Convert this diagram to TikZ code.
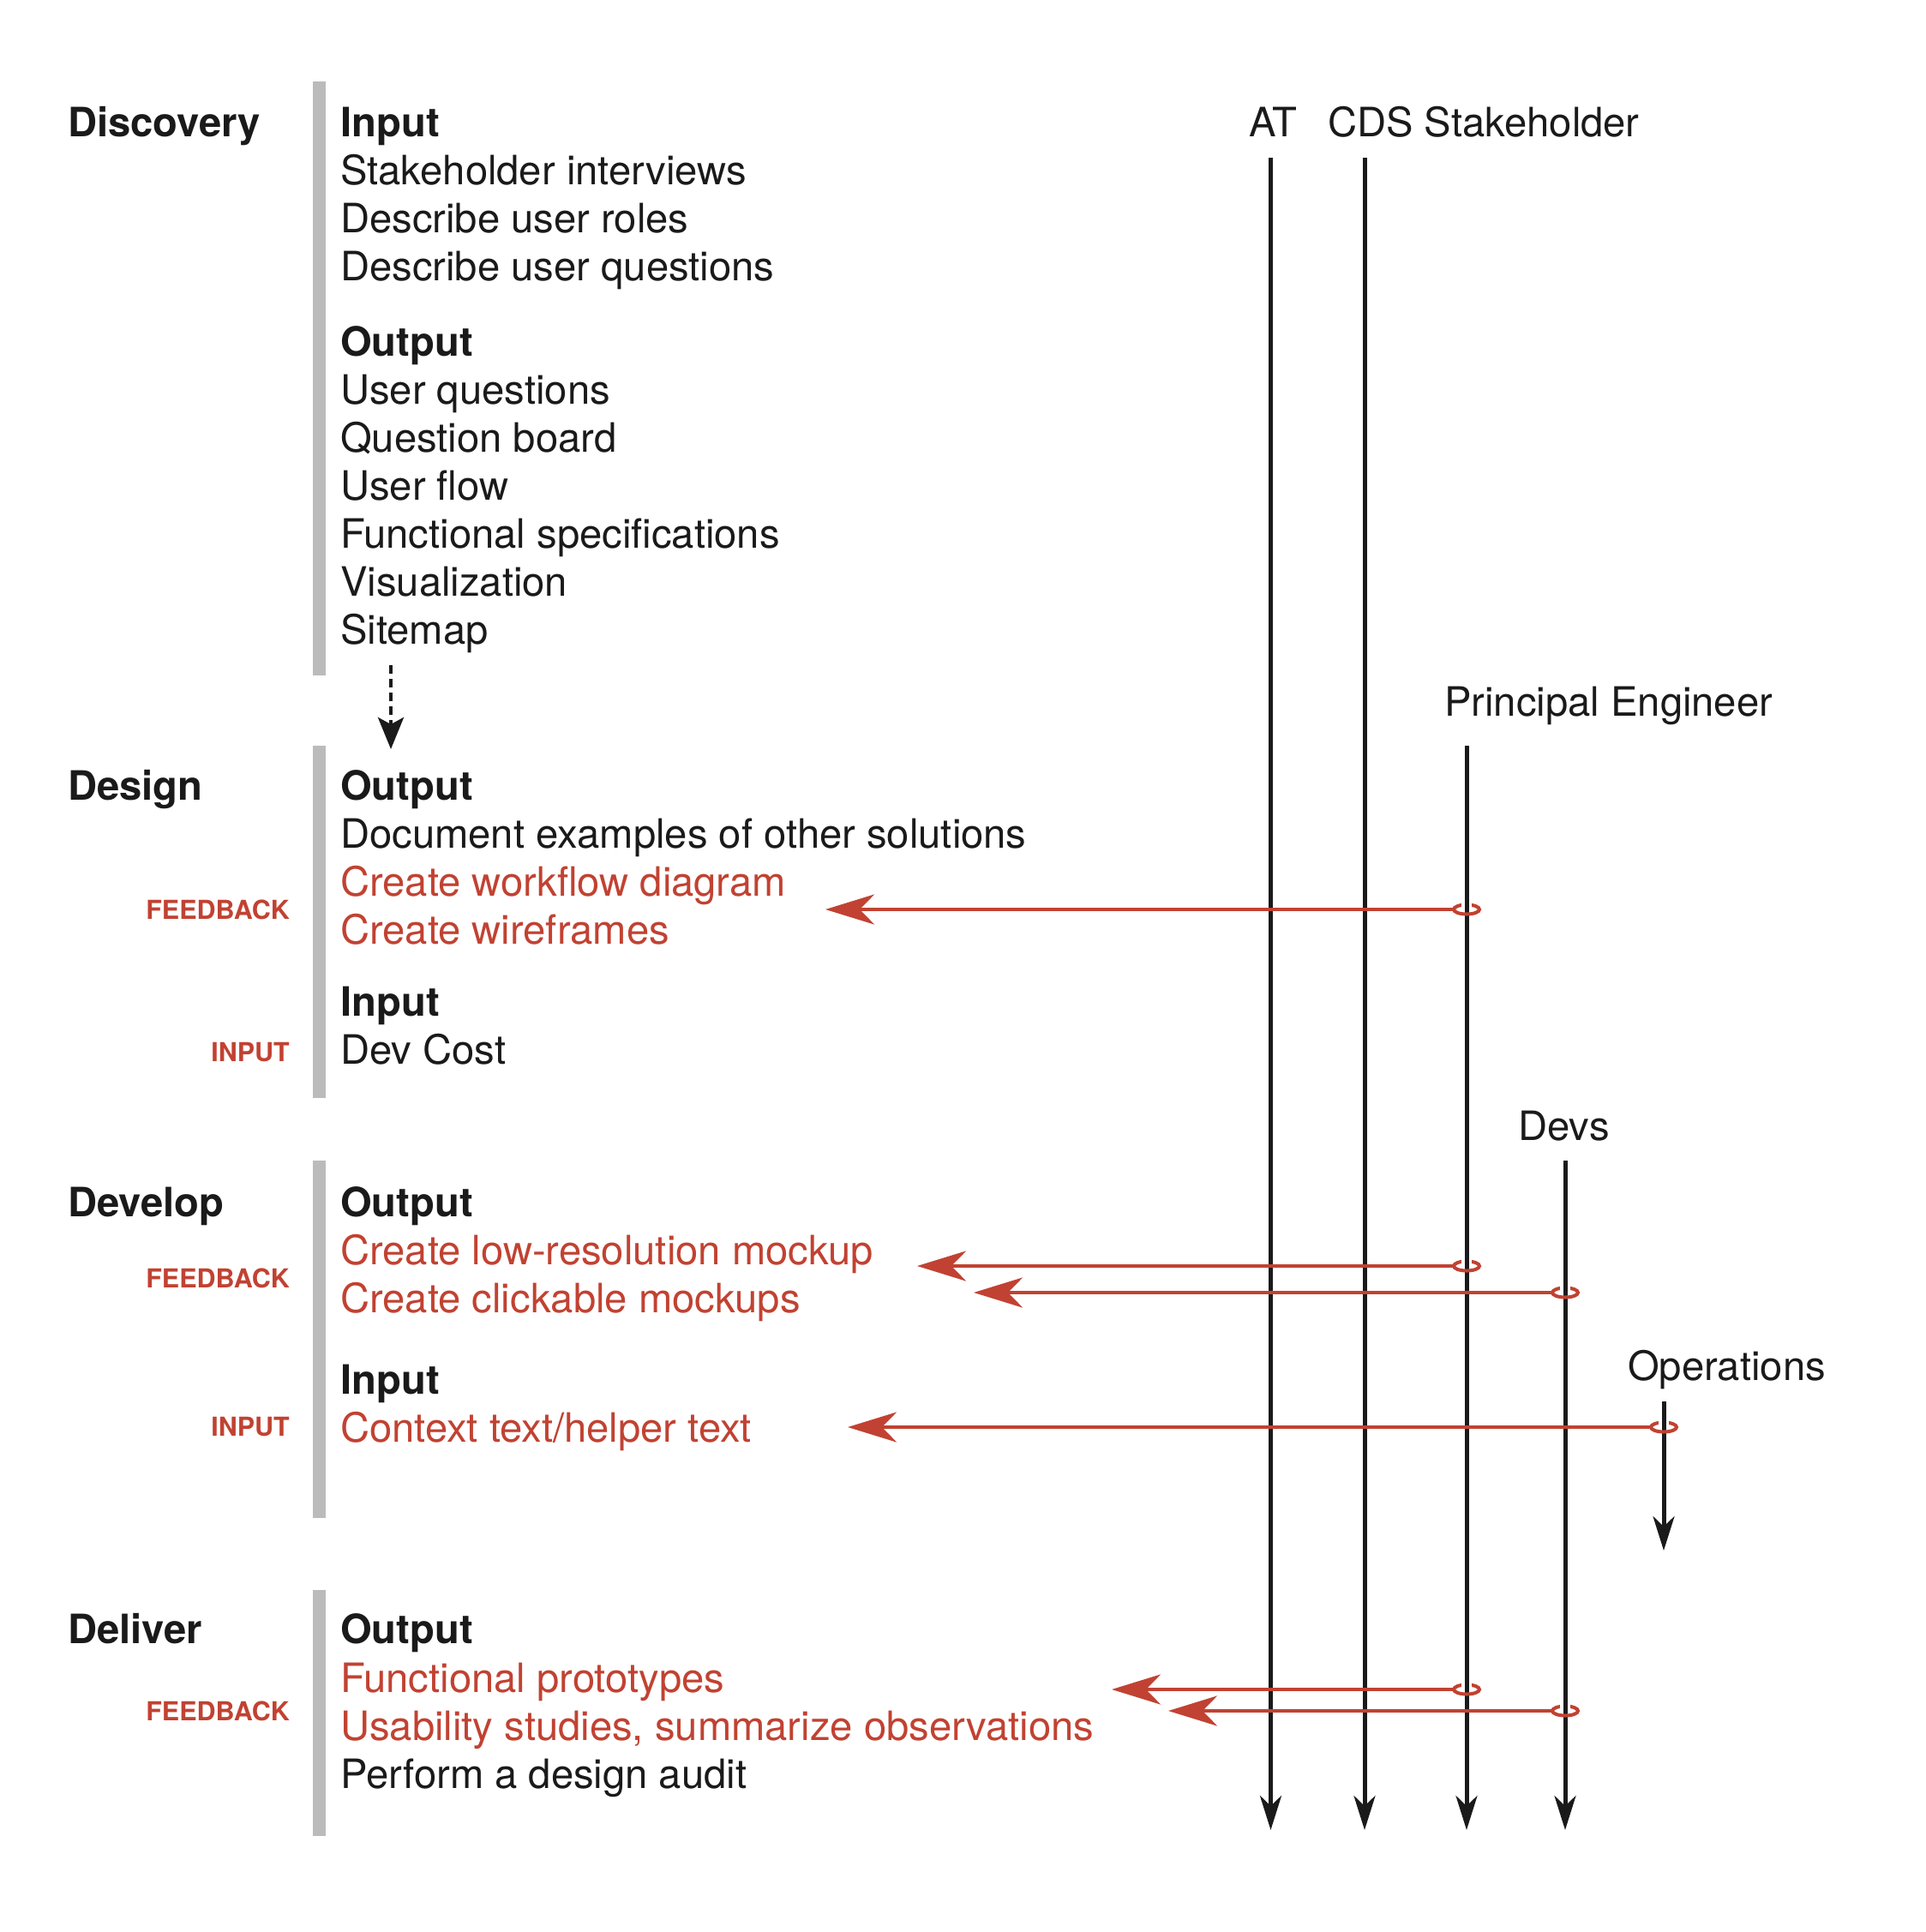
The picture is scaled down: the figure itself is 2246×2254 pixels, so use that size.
\documentclass[tikz,border=0pt]{standalone}
\usepackage{fontspec}
\setmainfont{TeX Gyre Heros}
\usetikzlibrary{arrows.meta}
\definecolor{fbred}{RGB}{193,66,50}
\definecolor{bargray}{RGB}{187,187,187}
\definecolor{ink}{RGB}{26,26,26}
\begin{document}
\begin{tikzpicture}[x=1pt,y=-1pt,
  txt/.style={anchor=base west,inner sep=0pt,font=\fontsize{47.2}{56}\selectfont,text=ink},
  hd/.style={anchor=base west,inner sep=0pt,font=\fontsize{47.2}{56}\selectfont\bfseries,text=ink},
  rtxt/.style={txt,text=fbred},
  tag/.style={anchor=base east,inner sep=0pt,font=\fontsize{30.5}{36}\selectfont\bfseries,text=fbred},
  role/.style={anchor=base west,inner sep=0pt,font=\fontsize{47.2}{56}\selectfont,text=ink},
  bar/.style={line width=15pt,draw=bargray},
  life/.style={draw=ink,line width=5pt,-{Stealth[length=40pt,width=25pt,inset=12pt]}},
  fb/.style={draw=fbred,line width=4.5pt,-{Stealth[length=57pt,width=35pt,inset=17pt]}},
  ring/.style={draw=fbred,line width=4pt},
  knock/.style={draw=white,line width=12pt},
  reink/.style={draw=ink,line width=5pt}
]
\useasboundingbox (0,0) rectangle (2246,2254);

% ---- gray bars
\coordinate (b1t) at (372,95);   \coordinate (b1b) at (372,788);
\coordinate (b2t) at (372,870);  \coordinate (b2b) at (372,1281);
\coordinate (b3t) at (372,1354); \coordinate (b3b) at (372,1771);
\coordinate (b4t) at (372,1855); \coordinate (b4b) at (372,2142);
\draw[bar] (b1t) -- (b1b);
\draw[bar] (b2t) -- (b2b);
\draw[bar] (b3t) -- (b3b);
\draw[bar] (b4t) -- (b4b);

% ---- phase labels
\node[hd] (pDisc) at (79,159) {Discovery};
\node[hd] (pDes)  at (79,933) {Design};
\node[hd] (pDev)  at (79,1419) {Develop};
\node[hd] (pDel)  at (79,1917) {Deliver};

% ---- tags
\node[tag] (tagA) at (338,1072) {FEEDBACK};
\node[tag] (tagB) at (338,1238) {INPUT};
\node[tag] (tagC) at (338,1502) {FEEDBACK};
\node[tag] (tagD) at (338,1675) {INPUT};
\node[tag] (tagE) at (338,2007) {FEEDBACK};

% ---- Discovery
\node[hd]  (d1) at (397,159) {Input};
\node[txt] (d2) at (397,215) {Stakeholder interviews};
\node[txt] (d3) at (397,271) {Describe user roles};
\node[txt] (d4) at (397,327) {Describe user questions};
\node[hd]  (d5) at (397,415) {Output};
\node[txt] (d6) at (397,471) {User questions};
\node[txt] (d7) at (397,527) {Question board};
\node[txt] (d8) at (397,583) {User flow};
\node[txt] (d9) at (397,639) {Functional specifications};
\node[txt] (d10) at (397,695) {Visualization};
\node[txt] (d11) at (397,751) {Sitemap};

% ---- Design
\node[hd]   (e1) at (397,933) {Output};
\node[txt]  (e2) at (397,989) {Document examples of other solutions};
\node[rtxt] (e3) at (397,1045) {Create workflow diagram};
\node[rtxt] (e4) at (397,1101) {Create wireframes};
\node[hd]   (e5) at (397,1185) {Input};
\node[txt]  (e6) at (397,1241) {Dev Cost};

% ---- Develop
\node[hd]   (v1) at (397,1419) {Output};
\node[rtxt] (v2) at (397,1475) {Create low-resolution mockup};
\node[rtxt] (v3) at (397,1531) {Create clickable mockups};
\node[hd]   (v4) at (397,1626) {Input};
\node[rtxt] (v5) at (397,1682) {Context text/helper text};

% ---- Deliver
\node[hd]   (l1) at (397,1917) {Output};
\node[rtxt] (l2) at (397,1974) {Functional prototypes};
\node[rtxt] (l3) at (397,2030) {Usability studies, summarize observations};
\node[txt]  (l4) at (397,2086) {Perform a design audit};

% ---- dashed arrow
\coordinate (ds) at (456,776);
\coordinate (de) at (456,874);
\draw[ink,line width=4pt,dash pattern=on 10pt off 6pt,-{Stealth[length=37pt,width=30pt,inset=8pt]}] (ds) -- (de);

% ---- role labels
\node[anchor=base,inner sep=0pt,font=\fontsize{47.2}{56}\selectfont,text=ink] (rAT) at (1485,159) {AT};
\node[role] (rCDS) at (1549,159) {CDS Stakeholder};
\node[role] (rPE)  at (1685,835) {Principal Engineer};
\node[role] (rDev) at (1771,1330) {Devs};
\node[role] (rOps) at (1899,1610) {Operations};

% ---- lifelines
\coordinate (atT) at (1482.5,184);  \coordinate (atB) at (1482.5,2135);
\coordinate (cdT) at (1592,184);    \coordinate (cdB) at (1592,2135);
\coordinate (peT) at (1711,870);    \coordinate (peB) at (1711,2135);
\coordinate (dvT) at (1826,1354);   \coordinate (dvB) at (1826,2135);
\coordinate (opT) at (1941,1635);   \coordinate (opB) at (1941,1809);
\draw[life] (atT) -- (atB);
\draw[life] (cdT) -- (cdB);
\draw[life] (peT) -- (peB);
\draw[life] (dvT) -- (dvB);
\draw[life] (opT) -- (opB);

% ---- feedback arrows: origins on lifelines, tips near text
\coordinate (o1) at (1711,1061); \coordinate (t1) at (963,1061);
\coordinate (o2) at (1711,1477); \coordinate (t2) at (1070,1477);
\coordinate (o3) at (1826,1508); \coordinate (t3) at (1136,1508);
\coordinate (o4) at (1941,1665); \coordinate (t4) at (989,1665);
\coordinate (o5) at (1711,1971); \coordinate (t5) at (1297,1971);
\coordinate (o6) at (1826,1996); \coordinate (t6) at (1363,1996);

\foreach \i in {1,...,6}{
  \draw[fb] ([xshift=-14pt]o\i) -- (t\i);
}
\foreach \i in {1,...,6}{
  \draw[ring] (o\i) ellipse [x radius=15pt, y radius=5.5pt];
  \draw[knock] ([yshift=2pt]o\i) -- ([yshift=8.5pt]o\i);
  \draw[reink] ([yshift=1pt]o\i) -- ([yshift=9.5pt]o\i);
}
\end{tikzpicture}
\end{document}
